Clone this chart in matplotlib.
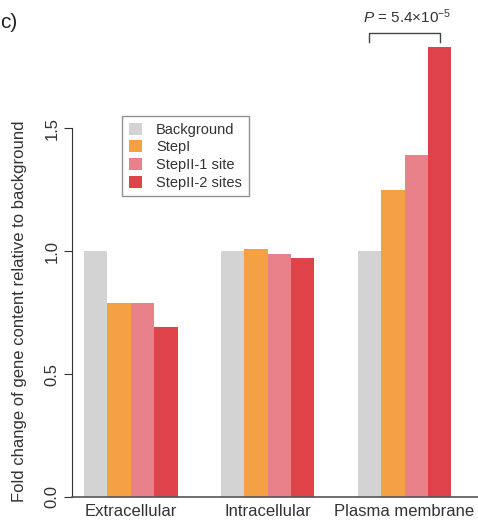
import numpy as np
import matplotlib.pyplot as plt

plt.rcParams['font.family'] = ['Liberation Sans', 'DejaVu Sans']
plt.rcParams['mathtext.fontset'] = 'custom'
plt.rcParams['mathtext.it'] = 'Liberation Sans:italic'
plt.rcParams['mathtext.rm'] = 'Liberation Sans'

categories = ['Extracellular', 'Intracellular', 'Plasma membrane']
series = ['Background', 'StepI', 'StepII-1 site', 'StepII-2 sites']
background = [1.00, 1.00, 1.00]
step1 = [0.79, 1.01, 1.25]
step2_one = [0.79, 0.99, 1.39]
step2_two = [0.69, 0.97, 1.83]
colors = ['#d3d3d3', '#f4a045', '#e8818a', '#e0424a']
yticks = [0.0, 0.5, 1.0, 1.5]

values = [background, step1, step2_one, step2_two]

fig = plt.figure(figsize=(4.78, 5.21), dpi=100)
ax = fig.add_axes([72 / 478, 24 / 521, 406 / 478, 487 / 521])

x = np.arange(len(categories))
w = 0.171
for i, (vals, col) in enumerate(zip(values, colors)):
    ax.bar(x + (i - 1.5) * w, vals, width=w, color=col, label=series[i],
           linewidth=0)

ax.set_xlim(-0.43, 2.537)
ax.set_ylim(0, 1.98)

for s in ['top', 'right']:
    ax.spines[s].set_visible(False)
ax.spines['left'].set_bounds(0, 1.5)
ax.spines['left'].set_color('#333333')
ax.spines['bottom'].set_color('#555555')
ax.spines['bottom'].set_linewidth(1.2)

ax.set_yticks(yticks)
ax.set_yticklabels(['%.1f' % v for v in yticks], rotation=90, va='center',
                   fontsize=12, color='#333333')
ax.tick_params(axis='y', length=6, pad=3, color='#333333')
ax.set_xticks(x)
ax.set_xticklabels(categories, fontsize=12, color='#333333')
ax.tick_params(axis='x', length=0, pad=5)

ax.set_ylabel('Fold change of gene content relative to background',
              fontsize=12, color='#333333')
ax.yaxis.set_label_coords(-0.11, 0.382)

# significance bracket over plasma membrane
x0 = x[2] - 1.5 * w
x1 = x[2] + 1.5 * w
ax.plot([x0, x0, x1, x1], [1.85, 1.886, 1.886, 1.85], color='#444444',
        lw=1, clip_on=False)
ax.text((x0 + x1) / 2 + 0.02, 1.915, r'$P$ = 5.4×10$^{-5}$', ha='center',
        va='bottom', fontsize=11, color='#333333', clip_on=False)

leg = ax.legend(loc='upper left', bbox_to_anchor=(0.123, 1 - (116 - 10) / 487),
                bbox_transform=ax.transAxes, fontsize=10.5, frameon=True,
                fancybox=False, edgecolor='#777777', handlelength=0.9,
                handleheight=0.9, handletextpad=1.0, labelspacing=0.25,
                borderpad=0.45, borderaxespad=0)
leg.get_frame().set_linewidth(1.0)
for t in leg.get_texts():
    t.set_color('#333333')

fig.text(0.0, 1 - 22 / 521, 'c)', fontsize=15, va='center', ha='left',
         color='#222222')

fig.savefig('out.png', dpi=100)
